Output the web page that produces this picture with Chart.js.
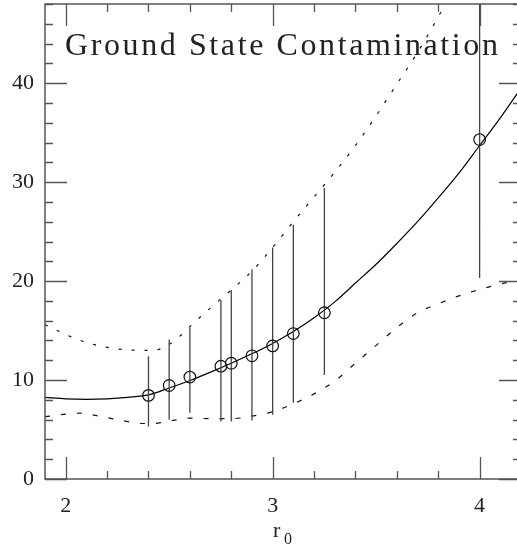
<!DOCTYPE html>
<html>
<head>
<meta charset="utf-8">
<script src="https://cdn.jsdelivr.net/npm/chart.js@4/dist/chart.umd.min.js"></script>
<style>
html, body { margin: 0; padding: 0; background: #fff; overflow: hidden; }
</style>
</head>
<body>
<canvas id="chart" width="522" height="551"></canvas>
<script>
// measured points with error bars
const rValues  = [2.4, 2.5, 2.6, 2.75, 2.8, 2.9, 3.0, 3.1, 3.25, 4.0];
const yValues  = [8.45, 9.45, 10.3, 11.4, 11.7, 12.45, 13.45, 14.7, 16.8, 34.3];
const errLow   = [5.3, 6.0, 6.7, 5.8, 5.8, 5.9, 6.5, 7.7, 10.5, 20.3];
const errHigh  = [12.4, 14.1, 15.3, 18.1, 19.1, 21.2, 23.4, 25.7, 29.4, 49.5];

// solid fit curve
const fitR = [1.9, 2.0, 2.1, 2.2, 2.3, 2.4, 2.5, 2.6, 2.7, 2.8, 2.9, 3.0, 3.1, 3.2, 3.3, 3.4, 3.5, 3.6, 3.7, 3.8, 3.9, 4.0, 4.1, 4.2];
const fitY = [8.25, 8.1, 8.05, 8.1, 8.25, 8.5, 9.2, 9.95, 10.8, 11.7, 12.65, 13.7, 14.9, 16.3, 17.9, 19.8, 21.7, 23.8, 26.0, 28.4, 30.9, 33.7, 36.5, 39.5];

// upper (dotted) band
const upR = [1.9, 1.95, 2.0, 2.1, 2.2, 2.3, 2.4, 2.45, 2.5, 2.55, 2.6, 2.7, 2.8, 2.9, 3.0, 3.1, 3.2, 3.3, 3.4, 3.5, 3.6, 3.7, 3.8, 3.9];
const upY = [15.6, 15.1, 14.6, 13.8, 13.3, 13.05, 13.0, 13.1, 13.6, 14.4, 15.4, 17.3, 19.1, 21.0, 23.4, 26.0, 28.5, 31.0, 33.7, 36.7, 39.9, 43.1, 46.7, 50.5];

// lower (dashed) band
const lowR = [1.9, 2.0, 2.07, 2.15, 2.25, 2.35, 2.42, 2.5, 2.6, 2.7, 2.8, 2.9, 3.0, 3.1, 3.2, 3.3, 3.4, 3.5, 3.6, 3.7, 3.8, 3.9, 4.0, 4.1, 4.2];
const lowY = [6.3, 6.55, 6.65, 6.4, 6.0, 5.65, 5.6, 5.85, 6.15, 6.1, 6.1, 6.35, 6.8, 7.6, 8.6, 9.9, 11.7, 13.5, 15.3, 16.8, 17.7, 18.5, 19.15, 19.7, 20.1];

// axes
const xMin = 1.9, xMax = 4.2;
const yMin = 0, yMax = 48;
const xMajor = [2, 3, 4];
const yMajor = [0, 10, 20, 30, 40];
const titleText = 'Ground State Contamination';

const pts = (xs, ys) => xs.map((x, i) => ({x: x, y: ys[i]}));

const bars = [];
rValues.forEach((r, i) => {
  bars.push({x: r, y: errLow[i]}, {x: r, y: errHigh[i]}, {x: r, y: null});
});

const serif = "'Liberation Serif', 'DejaVu Serif', serif";

// frame with inward ticks on all four sides, plus the title and axis label
const frameTicks = {
  id: 'frameTicks',
  afterDraw(chart) {
    const {ctx, chartArea: a, scales: {x, y}} = chart;
    ctx.save();
    ctx.strokeStyle = '#555';
    ctx.lineWidth = 1.5;
    ctx.strokeRect(a.left, a.top, a.right - a.left, a.bottom - a.top);
    ctx.lineWidth = 1.3;
    ctx.beginPath();
    for (let i = 0; i <= 24; i++) {
      const v = i * 2;
      const py = Math.round(y.getPixelForValue(v)) + 0.5;
      const len = yMajor.includes(v) ? 22 : 8;
      ctx.moveTo(a.left, py); ctx.lineTo(a.left + len, py);
      ctx.moveTo(a.right, py); ctx.lineTo(a.right - len, py);
    }
    for (let i = 0; i < 11; i++) {
      const v = 2 + i * 0.2;
      const px = Math.round(x.getPixelForValue(v)) + 0.5;
      const len = i % 5 === 0 ? 22 : 8;
      ctx.moveTo(px, a.bottom); ctx.lineTo(px, a.bottom - len);
      ctx.moveTo(px, a.top); ctx.lineTo(px, a.top + len);
    }
    ctx.stroke();

    // title inside the plot
    ctx.fillStyle = '#222';
    ctx.font = '32px ' + serif;
    ctx.textBaseline = 'alphabetic';
    ctx.textAlign = 'left';
    const w = ctx.measureText(titleText).width;
    const spacing = (433 - w) / (titleText.length - 1);
    ctx.letterSpacing = spacing.toFixed(2) + 'px';
    ctx.fillText(titleText, 65, 55);
    ctx.letterSpacing = '0px';

    // x axis label r0
    ctx.font = '22px ' + serif;
    ctx.fillText('r', 273, 537);
    ctx.font = '16px ' + serif;
    ctx.fillText('0', 284, 544);
    ctx.restore();
  }
};

new Chart(document.getElementById('chart'), {
  type: 'scatter',
  data: {
    datasets: [
      {
        data: pts(rValues, yValues),
        pointStyle: 'circle',
        pointRadius: 5.8,
        pointBorderWidth: 1.2,
        pointBorderColor: '#111',
        pointBackgroundColor: 'rgba(0,0,0,0)',
        showLine: false
      },
      {
        data: bars,
        showLine: true,
        spanGaps: false,
        borderColor: '#444',
        borderWidth: 1.3,
        pointRadius: 0
      },
      {
        data: pts(fitR, fitY),
        showLine: true,
        borderColor: '#000',
        borderWidth: 1.2,
        cubicInterpolationMode: 'monotone',
        pointRadius: 0
      },
      {
        data: pts(upR, upY),
        showLine: true,
        borderColor: '#111',
        borderWidth: 1.2,
        borderDash: [3, 10],
        cubicInterpolationMode: 'monotone',
        pointRadius: 0
      },
      {
        data: pts(lowR, lowY),
        showLine: true,
        borderColor: '#111',
        borderWidth: 1.2,
        borderDash: [5, 11],
        cubicInterpolationMode: 'monotone',
        pointRadius: 0
      }
    ]
  },
  options: {
    responsive: false,
    animation: false,
    events: [],
    layout: { autoPadding: false, padding: { top: 4, right: 1, left: 0, bottom: 0 } },
    plugins: { legend: { display: false }, tooltip: { enabled: false } },
    scales: {
      x: {
        type: 'linear',
        min: xMin,
        max: xMax,
        afterBuildTicks: s => { s.ticks = xMajor.map(v => ({value: v})); },
        afterFit: s => { s.height = 72; s.paddingLeft = 0; s.paddingRight = 0; },
        grid: { display: false, drawTicks: false },
        border: { display: false },
        ticks: {
          autoSkip: false,
          maxRotation: 0,
          padding: 14,
          color: '#222',
          font: { family: serif, size: 22 },
          callback: v => String(v)
        }
      },
      y: {
        min: yMin,
        max: yMax,
        afterBuildTicks: s => { s.ticks = yMajor.map(v => ({value: v})); },
        afterFit: s => { s.width = 45; s.paddingTop = 0; s.paddingBottom = 0; },
        grid: { display: false, drawTicks: false },
        border: { display: false },
        ticks: {
          autoSkip: false,
          padding: 11,
          color: '#222',
          font: { family: serif, size: 22 },
          callback: v => String(v)
        }
      }
    }
  },
  plugins: [frameTicks]
});
</script>
</body>
</html>
